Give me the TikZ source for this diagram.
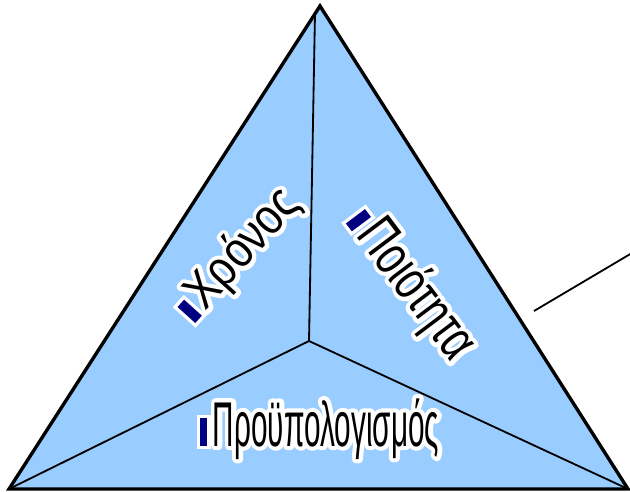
\documentclass[tikz,border=0pt]{standalone}
\usepackage{fontspec}
\setmainfont{Liberation Sans}
\newfontfamily\grwide[FakeStretch=0.85]{Liberation Sans}
\newfontfamily\grmid[FakeStretch=0.72]{Liberation Sans}
\newfontfamily\grnarrow[FakeStretch=0.47]{Liberation Sans}
\definecolor{paleblue}{HTML}{99CCFF}
\definecolor{bulletnavy}{HTML}{000080}
\newcommand{\strokeon}{\special{pdf:literal direct 2 Tr 6 w 1 j}}
\newcommand{\strokeoff}{\special{pdf:literal direct 0 Tr 1 w 0 j}}
\newcommand{\navybox}[2]{\rlap{\color{white}\rule[-2.4pt]{\dimexpr#1+4.8pt}{\dimexpr#2+4.8pt}}\hspace{2.4pt}{\color{bulletnavy}\rule{#1}{#2}}\hspace{4pt}}
\newcommand{\wordart}[3]{\navybox{#1}{#2}\rlap{\color{white}\strokeon#3\strokeoff}#3}
\tikzset{
  edgeline/.style  = {black,line width=2.4pt,line join=miter},
  splitline/.style = {black,line width=1.3pt},
  areaword/.style  = {inner sep=0pt,black}
}

\begin{document}
\begin{tikzpicture}[x=0.025cm,y=-0.025cm]
  \useasboundingbox (0,0) rectangle (630,492);
  \coordinate (apex)  at (320,6);
  \coordinate (left)  at (9,489);
  \coordinate (right) at (628,489);
  \coordinate (mid)   at (309,341);
  \coordinate (top)   at (315,13);
  \coordinate (outA)  at (534,311);
  \coordinate (outB)  at (632,253);
  \fill[paleblue] (apex) -- (left) -- (right) -- cycle;
  \draw[splitline] (mid) -- (top);
  \draw[splitline] (mid) -- (left);
  \draw[splitline] (mid) -- (right);
  \draw[edgeline] (apex) -- (left) -- (right) -- cycle;
  \draw[splitline] (outA) -- (outB);
  \node[areaword,rotate=48,font=\fontsize{36}{40}\selectfont\grwide] (time) at (237,256)
    {\wordart{7pt}{17pt}{Χρόνος}};
  \node[areaword,rotate=-53,font=\fontsize{40}{44}\selectfont\grmid] (quality) at (410,283)
    {\wordart{7pt}{17pt}{Ποιότητα}};
  \node[areaword,anchor=base,font=\fontsize{45}{48}\selectfont\grnarrow] (budget) at (318,446)
    {\wordart{5pt}{20pt}{Προϋπολογισμός}};
\end{tikzpicture}
\end{document}
